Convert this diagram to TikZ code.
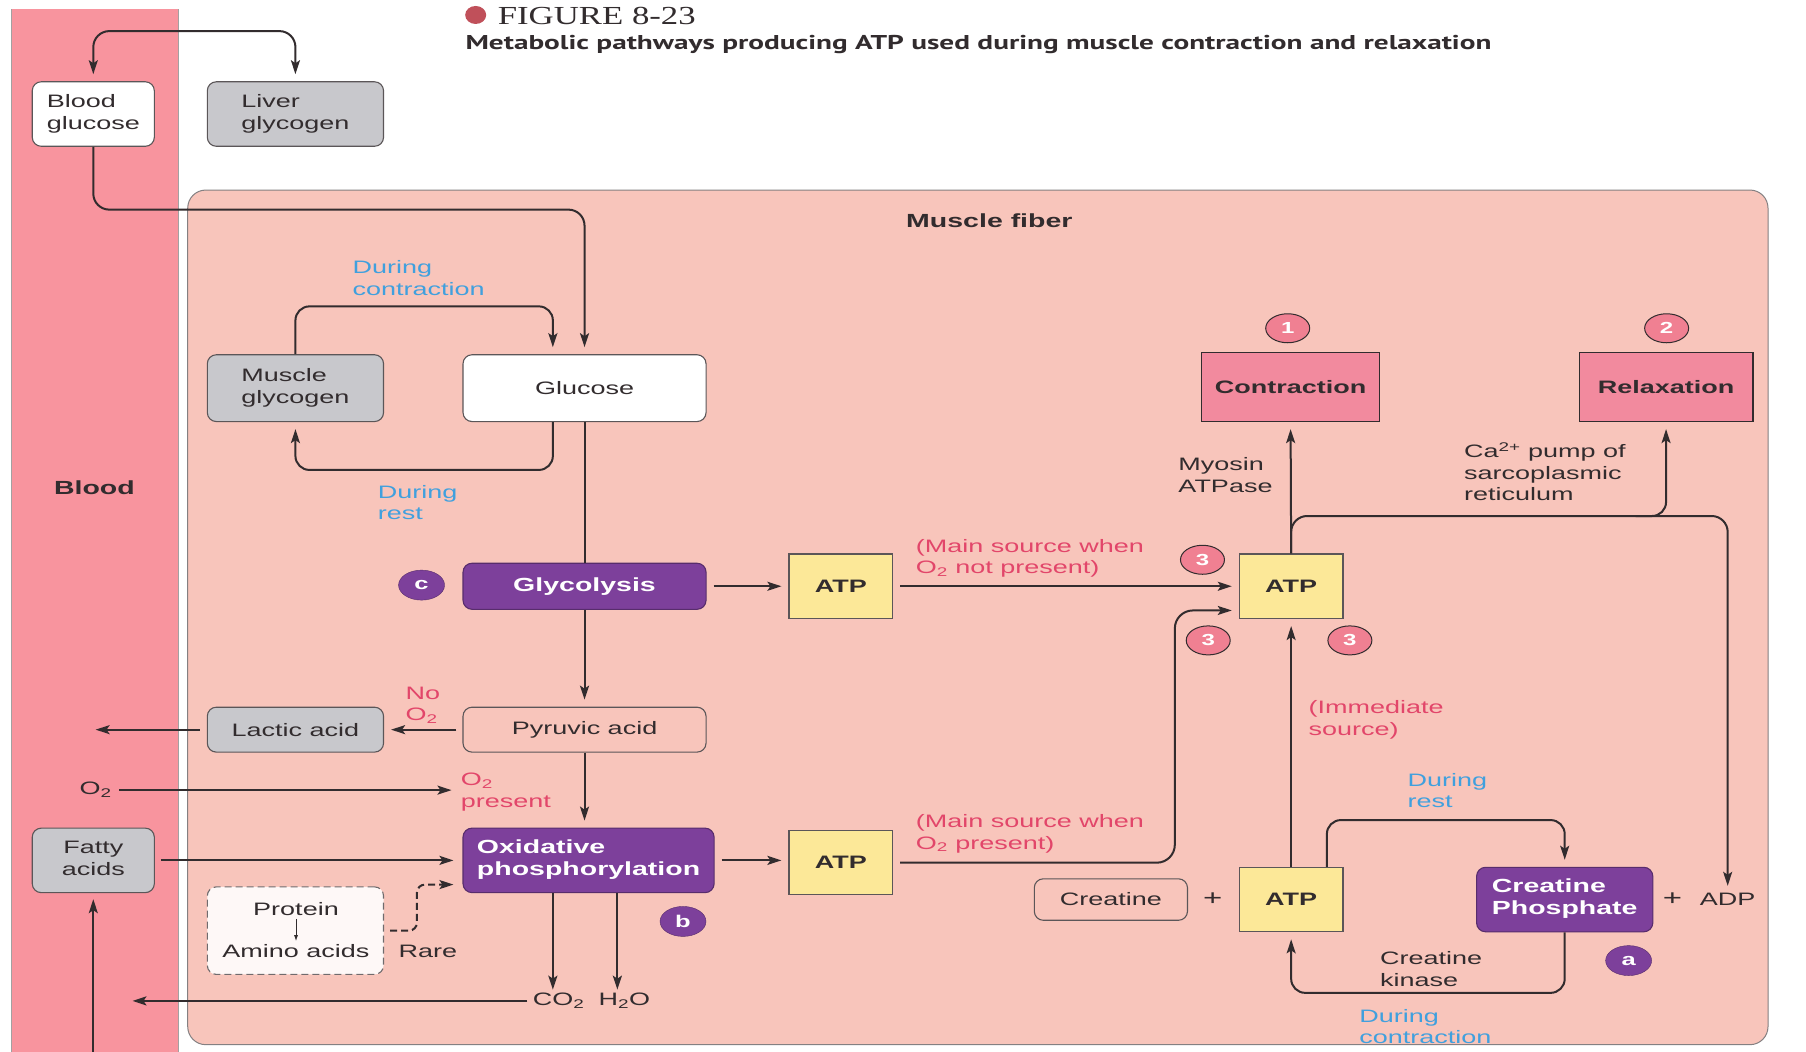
\documentclass[tikz,border=0pt]{standalone}
\usepackage{graphicx}
\usepackage{fontspec}
\setmainfont{Liberation Sans}[FakeStretch=1.5]
\newfontfamily\headserif{Liberation Serif}
\newfontfamily\headsans{PT Sans}
\usetikzlibrary{arrows.meta,shapes.geometric,calc}

\definecolor{bloodred}{RGB}{248,148,158}
\definecolor{fiber}{RGB}{248,197,187}
\definecolor{boxgrey}{RGB}{200,200,204}
\definecolor{violet}{RGB}{125,64,155}
\definecolor{atpyellow}{RGB}{252,232,152}
\definecolor{workpink}{RGB}{242,138,158}
\definecolor{notered}{RGB}{226,70,106}
\definecolor{noteblue}{RGB}{64,160,222}
\definecolor{ink}{RGB}{50,44,46}
\definecolor{numpink}{RGB}{240,128,146}
\definecolor{dotred}{RGB}{192,80,90}

% left-aligned stack of lines inside a box
\newcommand{\leftlines}[1]{\begin{tabular}{@{}l@{}}#1\end{tabular}}

\begin{document}
\begin{tikzpicture}[
  x=1.1518pt, y=-1.1518pt,
  every node/.style={font=\fontsize{18}{21.5}\selectfont, text=ink},
  % a box given by its corners x1,y1,x2,y2
  place/.style n args={4}{minimum width={(#3-#1)*1.1518pt}, minimum height={(#4-#2)*1.1518pt},
                          at={({(#1+#3)/2},{(#2+#4)/2})}},
  frame/.style={draw=ink!80, line width=1.1pt, inner sep=0pt},
  roundbox/.style={frame, rounded corners=9pt},
  greybox/.style={roundbox, fill=boxgrey},
  whitebox/.style={roundbox, fill=white},
  palebox/.style={roundbox, fill=fiber},
  pathbox/.style={roundbox, draw=violet!70!black, fill=violet, text=white,
                  font=\bfseries\fontsize{19}{22}\selectfont},
  atpbox/.style={frame, fill=atpyellow, font=\bfseries\fontsize{18}{22}\selectfont},
  workbox/.style={frame, draw=ink, fill=workpink, font=\bfseries\fontsize{18}{22}\selectfont},
  flow/.style={draw=ink, line width=2pt},
  tip/.style={-{Stealth[length=14pt,width=9pt,inset=3pt]}},
  arr/.style={flow, tip, shorten >=7pt},
  longdash/.style={dash pattern=on 7pt off 4pt},
  note/.style={text=notered, align=left, inner sep=0pt},
  phase/.style={text=noteblue, align=left, inner sep=0pt},
  plain/.style={align=left, inner sep=0pt},
  stepnum/.style={ellipse, draw=ink, line width=1pt, fill=numpink, text=white,
                  font=\bfseries\fontsize{16}{16}\selectfont,
                  minimum width=44pt, minimum height=29pt, inner sep=0pt},
  marker/.style={ellipse, fill=violet, draw=violet!70!black, text=white,
                 font=\bfseries\fontsize{17}{17}\selectfont,
                 minimum width=46pt, minimum height=30pt, inner sep=0pt},
]
\useasboundingbox (0,0) rectangle (1568,913);
\fill[white] (0,0) rectangle (1568,913);

% blood strip and muscle fibre
\fill[bloodred] (10,8) rectangle (155,913);
\draw[ink!45, line width=0.8pt] (10,8) -- (10,913) (155,8) -- (155,913);
\draw[fill=fiber, draw=ink!60, line width=1pt, rounded corners=18pt] (163,165) rectangle (1535,907);

% heading
\node[ellipse, fill=dotred, minimum width=21pt, minimum height=18pt, inner sep=0pt] (dot) at (413,13) {};
\node[anchor=west, inner sep=0pt] (fig) at (432,13.5)
  {\resizebox{198pt}{\height}{\headserif\fontsize{26}{26}\selectfont FIGURE 8-23}};
\node[anchor=west, inner sep=0pt] (sub) at (404,39)
  {\resizebox{1026pt}{\height}{\headsans\bfseries\fontsize{20}{20}\selectfont Metabolic pathways producing ATP used during muscle contraction and relaxation}};

\node[font=\bfseries\fontsize{19}{20}\selectfont] (blood) at (82,423) {Blood};
\node[font=\bfseries\fontsize{19}{20}\selectfont] (fibre) at (859,192) {Muscle fiber};

% boxes
\node[whitebox, place={28}{71}{134}{127}] (bg) {\leftlines{Blood\\glucose}};
\node[greybox, place={180}{71}{333}{127}] (lg) {\leftlines{Liver\\glycogen}};
\node[greybox, place={180}{308}{333}{366}] (mg) {\leftlines{Muscle\\glycogen}};
\node[whitebox, place={402}{308}{613}{366}] (glu) {Glucose};
\node[pathbox, place={402}{489}{613}{529}] (gly) {Glycolysis};
\node[atpbox, place={685}{481}{775}{537}] (atp1) {ATP};
\node[atpbox, place={1076}{481}{1166}{537}] (atpm) {ATP};
\node[palebox, place={402}{614}{613}{653}] (pyr) {Pyruvic acid};
\node[greybox, place={180}{614}{333}{653}] (lac) {Lactic acid};
\node[pathbox, place={402}{719}{620}{775}] (ox) {\leftlines{Oxidative\\phosphorylation}};
\node[greybox, place={28}{719}{134}{775}] (fa) {\begin{tabular}{@{}c@{}}Fatty\\acids\end{tabular}};
\node[roundbox, longdash, draw=ink!70, fill=white!88!fiber, place={180}{770}{333}{846}] (prot) {};
\node[atpbox, place={685}{721}{775}{777}] (atp2) {ATP};
\node[workbox, place={1043}{306}{1198}{366}] (con) {Contraction};
\node[workbox, place={1371}{306}{1522}{366}] (rel) {Relaxation};
\node[palebox, place={898}{763}{1031}{799}] (cre) {Creatine};
\node[atpbox, place={1076}{753}{1166}{809}] (atp3) {ATP};
\node[pathbox, place={1282}{753}{1435}{809}] (cp) {\leftlines{Creatine\\Phosphate}};

% small texts
\node (protein) at (257,789) {Protein};
\node (amino) at (257,826) {Amino acids};
\draw[flow, line width=1pt, -{Latex[length=6pt,width=4pt]}] (protein.south) -- (amino.north);
\node (o2) at (83,686) {O\textsubscript{2}};
\node (co2) at (485,869) {CO\textsubscript{2}};
\node (h2o) at (542,869) {H\textsubscript{2}O};
\node[font=\fontsize{22}{22}\selectfont] (plus1) at (1053,781) {+};
\node[font=\fontsize{22}{22}\selectfont] (plus2) at (1452,781) {+};
\node (adp) at (1500,781) {ADP};
\node[plain, anchor=west] (rare) at (346,826) {Rare};

\node[phase, anchor=north west] (dcon1) at (306,226) {During\\contraction};
\node[phase, anchor=north west] (drest1) at (328,421) {During\\rest};
\node[note, anchor=north west] (nono2) at (352,596) {No\\O\textsubscript{2}};
\node[note, anchor=north west] (yeso2) at (400,671) {O\textsubscript{2}\\present};
\node[note, anchor=north west] (mainno) at (795,468) {(Main source when\\O\textsubscript{2} not present)};
\node[note, anchor=north west] (mainyes) at (795,707) {(Main source when\\O\textsubscript{2} present)};
\node[plain, anchor=north west] (myosin) at (1023,397) {Myosin\\ATPase};
\node[plain, anchor=north west] (pump) at (1271,384) {Ca\textsuperscript{2+} pump of\\sarcoplasmic\\reticulum};
\node[note, anchor=north west] (immed) at (1136,608) {(Immediate\\source)};
\node[phase, anchor=north west] (drest2) at (1222,671) {During\\rest};
\node[plain, anchor=north west] (ck) at (1198,826) {Creatine\\kinase};
\node[phase, anchor=north west] (dcon2) at (1180,876) {During\\contraction};

% numbered steps and pathway markers
\node[stepnum] (s1) at (1118,285) {1};
\node[stepnum] (s2) at (1447,285) {2};
\node[stepnum] (s3a) at (1044,486) {3};
\node[stepnum] (s3b) at (1049,556) {3};
\node[stepnum] (s3c) at (1172,556) {3};
\node[marker] (mc) at (366,508) {c};
\node[marker] (mb) at (593,800) {b};
\node[marker] (ma) at (1414,834) {a};

% helper coordinates
\coordinate (k4) at (0,27);
\coordinate (k3) at (0,182);
\coordinate (k1) at (480,266);
\coordinate (k2) at (480,408);
\coordinate (lacout) at (83,632);
\coordinate (o2in) at (392,686);
\coordinate (fain) at (81,913);
\coordinate (rr) at (362,768);
\coordinate (c2) at (480,0);
\coordinate (h2) at (536,0);
\coordinate (co2out) at (115,869);
\coordinate (j1) at (1020,530);
\coordinate (hl) at (0,448);
\coordinate (rbranch) at (1420,448);
\coordinate (r1) at (1152,712);
\coordinate (r2) at (0,862);

% blood glucose <-> liver glycogen
\draw[flow, {Stealth[length=14pt,width=9pt,inset=3pt]}-{Stealth[length=14pt,width=9pt,inset=3pt]},
      rounded corners=16pt, shorten <=7pt, shorten >=7pt]
  (bg.north) -- (bg.north |- k4) -- (lg.north |- k4) -- (lg.north);
% blood glucose into the fibre
\draw[arr, rounded corners=16pt] (bg.south) -- (bg.south |- k3) -- (glu.north |- k3) -- (glu.north);
% glycogen cycle
\draw[arr, rounded corners=14pt] (mg.north) -- (mg.north |- k1) -- (k1) -- (glu.north -| k1);
\draw[arr, rounded corners=14pt] (glu.south -| k2) -- (k2) -- (mg.south |- k2) -- (mg.south);
% glycolysis chain
\draw[flow] (glu.south) -- (gly.north);
\draw[arr, shorten <=7pt] (gly.east) -- (atp1.west);
\draw[arr, shorten <=7pt] (atp1.east) -- (atpm.west);
\draw[arr] (gly.south) -- (pyr.north);
\draw[arr, shorten <=6pt] (pyr.west) -- (lac.east);
\draw[arr, shorten <=7pt, shorten >=0pt] (lac.west) -- (lac.west -| lacout);
\draw[arr, shorten <=4pt, shorten >=0pt] (o2.east) -- (o2in);
\draw[arr] (pyr.south) -- (ox.north -| pyr.south);
\draw[arr, shorten <=6pt, shorten >=9pt] (fa.east) -- (ox.west |- fa.east);
\draw[arr, shorten >=6pt] (fain) -- (fa.south);
\draw[arr, longdash, rounded corners=8pt, shorten <=6pt, shorten >=9pt] (prot.east) -| (rr) -- (ox.west |- rr);
\draw[arr, shorten >=0pt] (ox.south -| c2) -- (co2.north -| c2);
\draw[arr, shorten >=0pt] (ox.south -| h2) -- (h2o.north -| h2);
\draw[arr, shorten <=2pt, shorten >=0pt] (co2.west) -- (co2out);
\draw[arr, shorten <=7pt] (ox.east) -- (atp2.west |- ox.east);
\draw[arr, rounded corners=18pt, shorten <=7pt] (atp2.east) -| (j1) -- (atpm.west |- j1);
% use of ATP
\draw[arr] (atpm.north) -- (con.south);
\draw[flow, tip, rounded corners=16pt, shorten >=4pt]
  (atpm.north) -- (atpm.north |- hl) -- (adp.north |- hl) -- (adp.north);
\draw[arr, rounded corners=14pt] (rbranch) -| (rel.south);
\draw[arr] (atp3.north) -- (atpm.south);
% creatine phosphate shuttle
\draw[arr, rounded corners=14pt] (atp3.north -| r1) -- (r1) -- (cp.north |- r1) -- (cp.north);
\draw[arr, rounded corners=14pt] (cp.south) -- (cp.south |- r2) -- (atp3.south |- r2) -- (atp3.south);
\end{tikzpicture}
\end{document}
